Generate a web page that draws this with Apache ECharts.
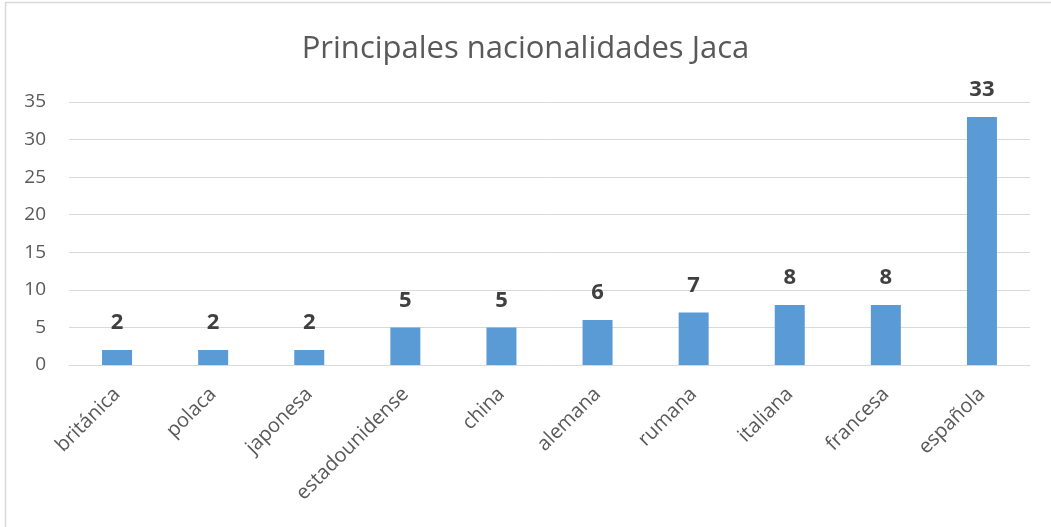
<!DOCTYPE html>
<html>
<head>
<meta charset="utf-8">
<script src="https://cdn.jsdelivr.net/npm/echarts@6/dist/echarts.min.js"></script>
<style>html,body{margin:0;padding:0;background:#fff;}#c{width:1051px;height:527px;}</style>
</head>
<body>
<div id="c"></div>
<script>
const title = 'Principales nacionalidades Jaca';
const categories = ['británica','polaca','japonesa','estadounidense','china','alemana','rumana','italiana','francesa','española'];
const values = [2,2,2,5,5,6,7,8,8,33];
const yTicks = {min:0, max:35, interval:5};

const chart = echarts.init(document.getElementById('c'), null, {renderer:'canvas'});
chart.setOption({
  animation:false,
  backgroundColor:'#fff',
  title:{text:title, left:'center', top:29, textStyle:{fontFamily:'Open Sans, Calibri, sans-serif', fontSize:31, fontWeight:'normal', color:'#595959'}},
  graphic:[{type:'rect', shape:{x:5.5,y:2.5,width:1060,height:540}, style:{fill:'none', stroke:'#d9d9d9', lineWidth:1.5}, silent:true}],
  grid:{left:69, right:21, top:102, bottom:162},
  xAxis:{type:'category', data:categories,
    axisLine:{lineStyle:{color:'#d9d9d9', width:1}}, axisTick:{show:false},
    axisLabel:{rotate:45, margin:26, fontSize:20, color:'#595959', fontFamily:'Open Sans, Calibri, sans-serif', interval:0}},
  yAxis:{type:'value', min:yTicks.min, max:yTicks.max, interval:yTicks.interval,
    axisLine:{show:false}, axisTick:{show:false},
    splitLine:{lineStyle:{color:'#d9d9d9', width:1}},
    axisLabel:{fontSize:19, color:'#595959', margin:23, fontFamily:'Open Sans, Calibri, sans-serif'}},
  series:[{type:'bar', data:values, barWidth:30, itemStyle:{color:'#5b9bd5'},
    label:{show:true, position:'top', distance:16, fontSize:22, fontWeight:'bold', color:'#404040', fontFamily:'Open Sans, Calibri, sans-serif'}}]
});
</script>
</body>
</html>
